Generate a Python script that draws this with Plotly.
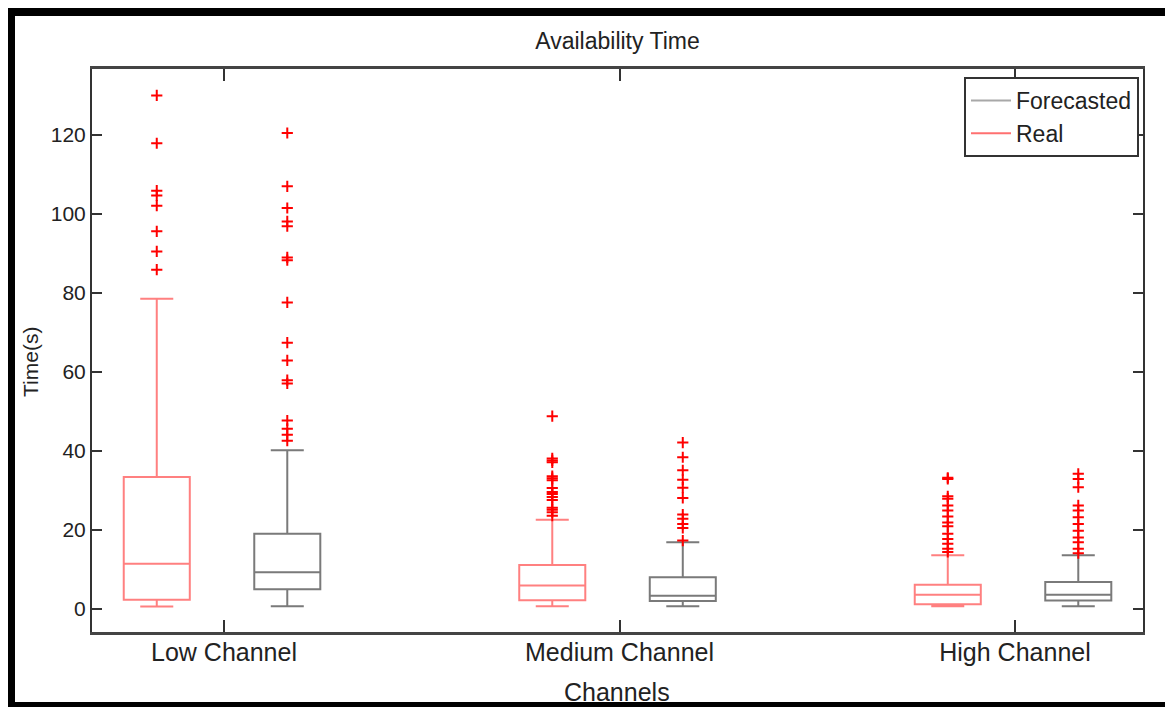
import plotly.graph_objects as go

# ---- data ----
categories = ["Low Channel", "Medium Channel", "High Channel"]

real_q1 = [2.2, 2.1, 1.1]
real_median = [11.3, 5.8, 3.5]
real_q3 = [33.3, 11.0, 6.0]
real_lower = [0.5, 0.6, 0.6]
real_upper = [78.4, 22.5, 13.5]

fc_q1 = [4.9, 1.9, 2.0]
fc_median = [9.2, 3.2, 3.5]
fc_q3 = [18.9, 7.9, 6.7]
fc_lower = [0.6, 0.6, 0.6]
fc_upper = [40.1, 16.8, 13.5]

real_out_low = [129.9, 117.8, 105.8, 104.6, 102.0, 95.5, 90.4, 85.8]
real_out_med = [48.7, 38.0, 37.5, 37.0, 33.5, 33.0, 32.5, 30.5, 29.5, 29.0, 28.2, 27.5, 25.5, 25.0, 24.4, 23.5]
real_out_high = [33.1, 32.8, 28.4, 27.8, 26.1, 24.8, 23.3, 21.8, 20.8, 18.9, 17.6, 16.4, 15.1, 14.3]

fc_out_low = [120.4, 106.9, 101.4, 98.0, 96.8, 88.9, 88.2, 77.5, 67.3, 62.8, 57.8, 57.0, 47.6, 45.5, 44.0, 42.5]
fc_out_med = [42.0, 38.3, 35.0, 32.6, 30.6, 28.0, 23.8, 22.7, 21.4, 20.4, 17.2]
fc_out_high = [34.1, 32.8, 30.7, 26.1, 24.8, 23.1, 21.4, 19.7, 18.0, 16.8, 15.1, 14.0]

y_ticks = [0, 20, 40, 60, 80, 100, 120]

# ---- layout constants ----
W, H = 1173, 707
SH = 8  # page body offset
PL, PR, PT, PB = 92, 1143, 69, 632  # plot area in screen px
ML, MT = PL - SH, PT - SH
MR, MB = W - (PR - SH), H - (PB - SH)
PW, PH = PR - PL, PB - PT
FONT = "Liberation Sans, Arial, sans-serif"
REAL_C = "#ff8080"
FC_C = "#7a7a7a"
OFF_REAL, OFF_FC = -0.17, 0.16
BOXW = 0.167

def px_x(p):
    return (p - PL) / PW

def px_y(p):
    return (PB - p) / PH

cat_pos = [i + 1 for i in range(len(categories))]
real_x = [c + OFF_REAL for c in cat_pos]
fc_x = [c + OFF_FC for c in cat_pos]

fig = go.Figure()

fig.add_trace(go.Box(
    x=real_x, q1=real_q1, median=real_median, q3=real_q3,
    lowerfence=real_lower, upperfence=real_upper,
    width=BOXW, whiskerwidth=0.5, boxpoints=False,
    line=dict(color=REAL_C, width=2), fillcolor="rgba(255,255,255,0)",
    showlegend=False, name="Real"))

fig.add_trace(go.Box(
    x=fc_x, q1=fc_q1, median=fc_median, q3=fc_q3,
    lowerfence=fc_lower, upperfence=fc_upper,
    width=BOXW, whiskerwidth=0.5, boxpoints=False,
    line=dict(color=FC_C, width=2), fillcolor="rgba(255,255,255,0)",
    showlegend=False, name="Forecasted"))

# outliers
out_x, out_y = [], []
for xs, lists in ((real_x, [real_out_low, real_out_med, real_out_high]),
                  (fc_x, [fc_out_low, fc_out_med, fc_out_high])):
    for xv, vals in zip(xs, lists):
        out_x += [xv] * len(vals)
        out_y += vals
fig.add_trace(go.Scatter(
    x=out_x, y=out_y, mode="markers", showlegend=False,
    marker=dict(symbol="cross-thin", size=8, line=dict(color="#ff0000", width=2))))

# legend entries
fig.add_trace(go.Scatter(x=[None], y=[None], mode="lines", name="Forecasted",
                         line=dict(color="#a8a8a8", width=2)))
fig.add_trace(go.Scatter(x=[None], y=[None], mode="lines", name="Real",
                         line=dict(color="#ff7070", width=2)))

fig.update_layout(
    width=W, height=H,
    margin=dict(l=ML, r=MR, t=MT, b=MB),
    paper_bgcolor="white", plot_bgcolor="white",
    font=dict(family=FONT, color="#222222"),
    title=dict(text="Availability Time", x=0.5, xref="paper", xanchor="center",
               y=1 - (41 - SH) / H, yanchor="middle", font=dict(size=23, family=FONT, color="#222")),
    xaxis=dict(range=[1 - 132 / 395.5, 3 + 128 / 395.5], tickvals=cat_pos, ticktext=categories,
               ticks="inside", ticklen=12, tickwidth=2, tickcolor="#333",
               showline=True, linecolor="#444", linewidth=3, mirror="ticks",
               showgrid=False, zeroline=False, tickfont=dict(size=25, family=FONT),
               ticklabelstandoff=-4),
    yaxis=dict(range=[-5.95, 136.6], tickvals=y_ticks,
               ticks="inside", ticklen=10, tickwidth=2, tickcolor="#333",
               showline=True, linecolor="#333", linewidth=2, mirror="ticks",
               showgrid=False, zeroline=False, tickfont=dict(size=21, family=FONT)),
    legend=dict(x=px_x(1139), y=px_y(77), xanchor="right", yanchor="top",
                bgcolor="white", bordercolor="#333", borderwidth=2,
                font=dict(size=23, family=FONT, color="#222"),
                itemwidth=40, tracegroupgap=0),
    showlegend=True,
)

fig.add_annotation(text="Time(s)", x=px_x(30), y=px_y(362), xref="paper", yref="paper",
                   xanchor="center", yanchor="middle",
                   textangle=-90, showarrow=False, font=dict(size=21, family=FONT, color="#222"))
fig.add_annotation(text="Channels", x=px_x(617), y=px_y(692), xref="paper", yref="paper",
                   xanchor="center", yanchor="middle",
                   showarrow=False, font=dict(size=25, family=FONT, color="#222"))

# figure frame
fig.add_shape(type="rect", xref="paper", yref="paper",
              x0=px_x(11), x1=px_x(1169), y0=px_y(706), y1=px_y(12),
              line=dict(color="black", width=8), fillcolor="rgba(0,0,0,0)", layer="above")

fig.write_html("out.html")
